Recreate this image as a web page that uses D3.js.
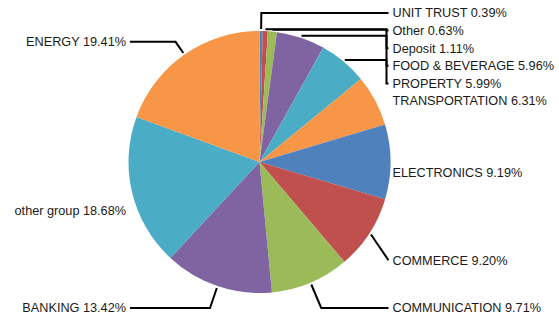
<!DOCTYPE html>
<html>
<head>
<meta charset="utf-8">
<script src="https://cdn.jsdelivr.net/npm/d3@7"></script>
<style>
  body { margin: 0; background: #fff; }
  .lbl { font-family: "Liberation Sans", Arial, sans-serif; font-size: 12.7px; fill: #1a1a1a; }
</style>
</head>
<body>
<div id="chart"></div>
<script>
// sector shares, clockwise from 12 o'clock
var categories = ["UNIT TRUST", "Other", "Deposit", "FOOD & BEVERAGE", "PROPERTY",
  "TRANSPORTATION", "ELECTRONICS", "COMMERCE", "COMMUNICATION", "BANKING",
  "other group", "ENERGY"];
var shares = [0.39, 0.63, 1.11, 5.96, 5.99, 6.31, 9.19, 9.20, 9.71, 13.42, 18.68, 19.41];

var palette = ["#4F81BD", "#C0504D", "#9BBB59", "#8064A2", "#4BACC6", "#F79646"];

var width = 559, height = 322;
var cx = 259.5, cy = 162, radius = 131;

var svg = d3.select("#chart")
  .append("svg")
  .attr("width", width)
  .attr("height", height);

var g = svg.append("g")
  .attr("transform", "translate(" + cx + "," + cy + ")");

var pie = d3.pie().sort(null).value(function(d) { return d; });
var arcs = pie(shares);

var arc = d3.arc().innerRadius(0).outerRadius(radius);

g.selectAll("path.slice")
  .data(arcs)
  .join("path")
  .attr("class", "slice")
  .attr("d", arc)
  .attr("fill", function(d, i) { return palette[i % palette.length]; });

// label layout: natural spot, then push apart on each side
var labelR = 160, gap = 17.6, yMin = 13, yMax = 308;
var labels = arcs.map(function(d, i) {
  var a = (d.startAngle + d.endAngle) / 2;
  return {
    i: i,
    a: a,
    right: Math.sin(a) >= 0,
    y: cy + 11 - labelR * Math.cos(a),
    text: categories[i] + " " + shares[i].toFixed(2) + "%"
  };
});

function spread(list) {
  list.sort(function(a, b) { return a.y - b.y; });
  for (var k = 0; k < list.length; k++) {
    var lo = k ? list[k - 1].y + gap : yMin;
    list[k].y = Math.max(list[k].y, lo);
  }
  for (var k = list.length - 1; k >= 0; k--) {
    var hi = k < list.length - 1 ? list[k + 1].y - gap : yMax;
    list[k].y = Math.min(list[k].y, hi);
  }
}
spread(labels.filter(function(l) { return l.right; }));
spread(labels.filter(function(l) { return !l.right; }));

var anchorRight = cx + radius - 2, anchorLeft = cx - radius + 1.5;

function connector(l) {
  var ux = Math.sin(l.a), uy = -Math.cos(l.a);
  var ex = cx + (radius + 2) * ux, ey = cy + (radius + 2) * uy;
  var ax = l.right ? anchorRight : anchorLeft;
  if (Math.abs(ax - ex) < 15) return null;
  var dy = l.y - ey;
  var pts = [[ex, ey]];
  if (Math.abs(uy) > 0.01 && dy * uy > 0) {
    var t = dy / uy, px = ex + t * ux;
    var past = l.right ? px > ax - 2 : px < ax + 2;
    if (!past) pts.push([px, l.y]);
  } else {
    var kx = l.right ? ax - 2 : ax + 2;
    pts.push([kx, ey]);
    pts.push([kx, l.y]);
  }
  pts.push([ax, l.y]);
  return pts;
}

svg.append("g")
  .selectAll("path")
  .data(labels.filter(function(l) { return connector(l); }))
  .join("path")
  .attr("d", function(l) { return d3.line()(connector(l)); })
  .attr("fill", "none")
  .attr("stroke", "#000")
  .attr("stroke-width", 2);

svg.append("g")
  .selectAll("text")
  .data(labels)
  .join("text")
  .attr("class", "lbl")
  .attr("x", function(l) { return l.right ? anchorRight + 4 : anchorLeft - 4; })
  .attr("y", function(l) { return l.y; })
  .attr("dy", "0.35em")
  .attr("text-anchor", function(l) { return l.right ? "start" : "end"; })
  .text(function(l) { return l.text; });
</script>
</body>
</html>
